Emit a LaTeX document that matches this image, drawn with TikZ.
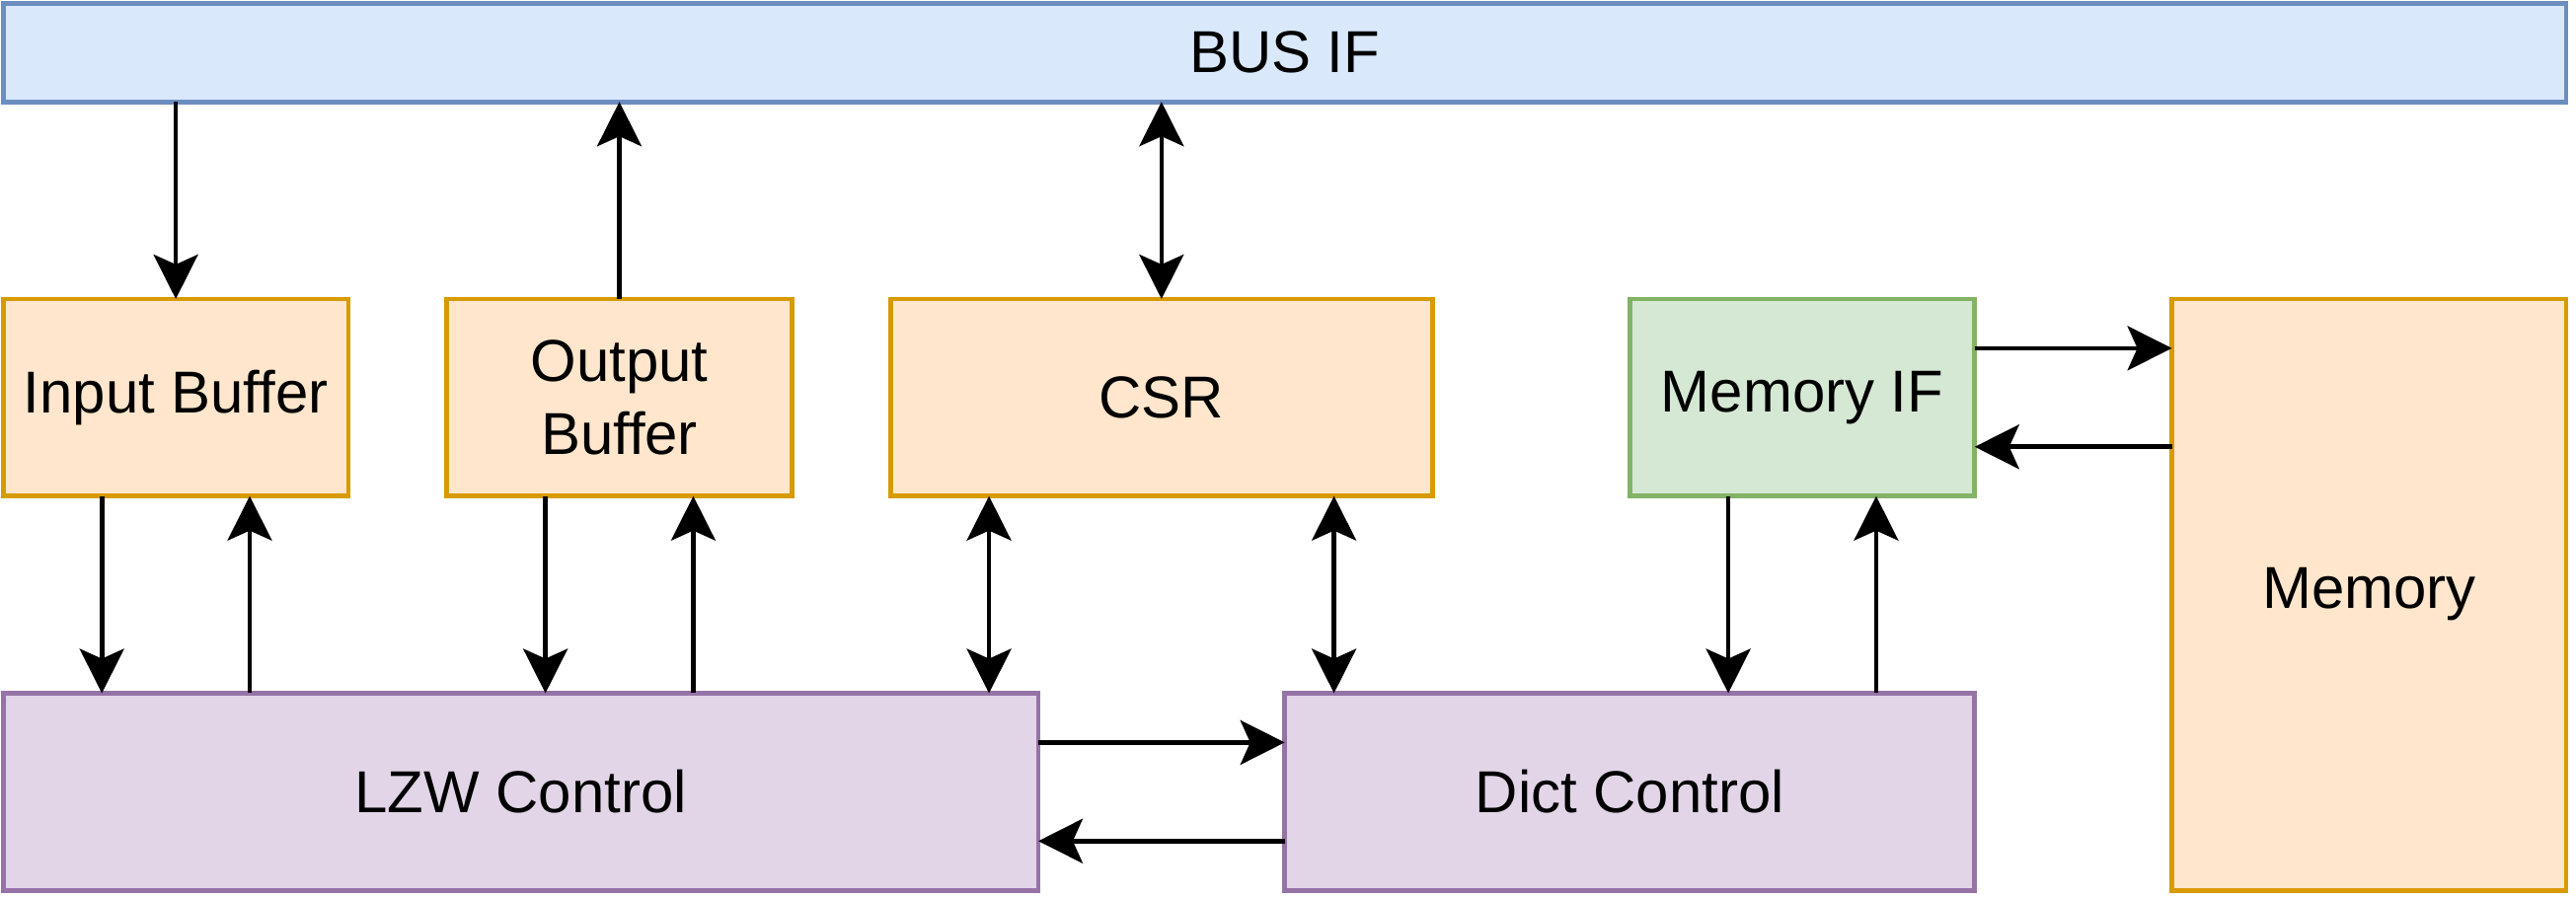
\documentclass[tikz,border=0pt]{standalone}
\usepackage{fontspec}
\setmainfont{Liberation Sans}
\usetikzlibrary{arrows.meta,calc}
\definecolor{bluefill}{HTML}{DAE8FC}
\definecolor{bluedraw}{HTML}{6C8EBF}
\definecolor{orangefill}{HTML}{FFE6CC}
\definecolor{orangedraw}{HTML}{D79B00}
\definecolor{greenfill}{HTML}{D5E8D4}
\definecolor{greendraw}{HTML}{82B366}
\definecolor{purplefill}{HTML}{E1D5E7}
\definecolor{purpledraw}{HTML}{9673A6}
\begin{document}
\begin{tikzpicture}[x=1pt,y=-1pt,
  box/.style={draw, rectangle, line width=2.8pt, anchor=north west, outer sep=0pt, inner sep=0pt, align=center, font=\fontsize{36}{45}\selectfont},
  bluebox/.style={box, fill=bluefill, draw=bluedraw},
  orangebox/.style={box, fill=orangefill, draw=orangedraw},
  greenbox/.style={box, fill=greenfill, draw=greendraw},
  purplebox/.style={box, fill=purplefill, draw=purpledraw},
  tip/.tip={Stealth[length=27pt,width=27pt,inset=6pt]},
  arr/.style={line width=2.8pt, -tip},
  darr/.style={line width=2.8pt, tip-tip}]
\useasboundingbox (-2,-2) rectangle (1566,544.7);
\node[bluebox, minimum width=1560pt, minimum height=60pt] (bus) at (0,0) {BUS IF};
\node[orangebox, minimum width=210pt, minimum height=120pt] (inb) at (0,180) {Input Buffer};
\node[orangebox, minimum width=210pt, minimum height=120pt] (outb) at (270,180) {Output\\Buffer};
\node[orangebox, minimum width=330pt, minimum height=120pt] (csr) at (540,180) {CSR};
\node[greenbox, minimum width=210pt, minimum height=120pt] (mif) at (990,180) {Memory IF};
\node[orangebox, minimum width=240pt, minimum height=360pt] (mem) at (1320,180) {Memory};
\node[purplebox, minimum width=630pt, minimum height=120pt] (lzw) at (0,420) {LZW Control};
\node[purplebox, minimum width=420pt, minimum height=120pt] (dict) at (780,420) {Dict Control};

\draw[arr] (bus.south -| inb.north) -- (inb.north);
\draw[arr] (outb.north) -- (outb.north |- bus.south);
\draw[darr] (csr.north) -- (csr.north |- bus.south);

\coordinate (c1) at ($(inb.south west)+(60,0)$);
\coordinate (c2) at ($(inb.south west)+(150,0)$);
\coordinate (c3) at ($(outb.south west)+(60,0)$);
\coordinate (c4) at ($(outb.south west)+(150,0)$);
\coordinate (c5) at ($(csr.south west)+(60,0)$);
\coordinate (c6) at ($(csr.south west)+(270,0)$);
\coordinate (c7) at ($(mif.south west)+(60,0)$);
\coordinate (c8) at ($(mif.south west)+(150,0)$);
\coordinate (h1) at ($(mif.north east)+(0,30)$);
\coordinate (h2) at ($(mif.north east)+(0,90)$);
\coordinate (h3) at ($(lzw.north east)+(0,30)$);
\coordinate (h4) at ($(lzw.north east)+(0,90)$);

\draw[arr] (c1) -- (c1 |- lzw.north);
\draw[arr] (c2 |- lzw.north) -- (c2);
\draw[arr] (c3) -- (c3 |- lzw.north);
\draw[arr] (c4 |- lzw.north) -- (c4);
\draw[darr] (c5) -- (c5 |- lzw.north);
\draw[darr] (c6) -- (c6 |- dict.north);
\draw[arr] (c7) -- (c7 |- dict.north);
\draw[arr] (c8 |- dict.north) -- (c8);
\draw[arr] (h1) -- (h1 -| mem.west);
\draw[arr] (h2 -| mem.west) -- (h2);
\draw[arr] (h3) -- (h3 -| dict.west);
\draw[arr] (h4 -| dict.west) -- (h4);
\end{tikzpicture}
\end{document}
